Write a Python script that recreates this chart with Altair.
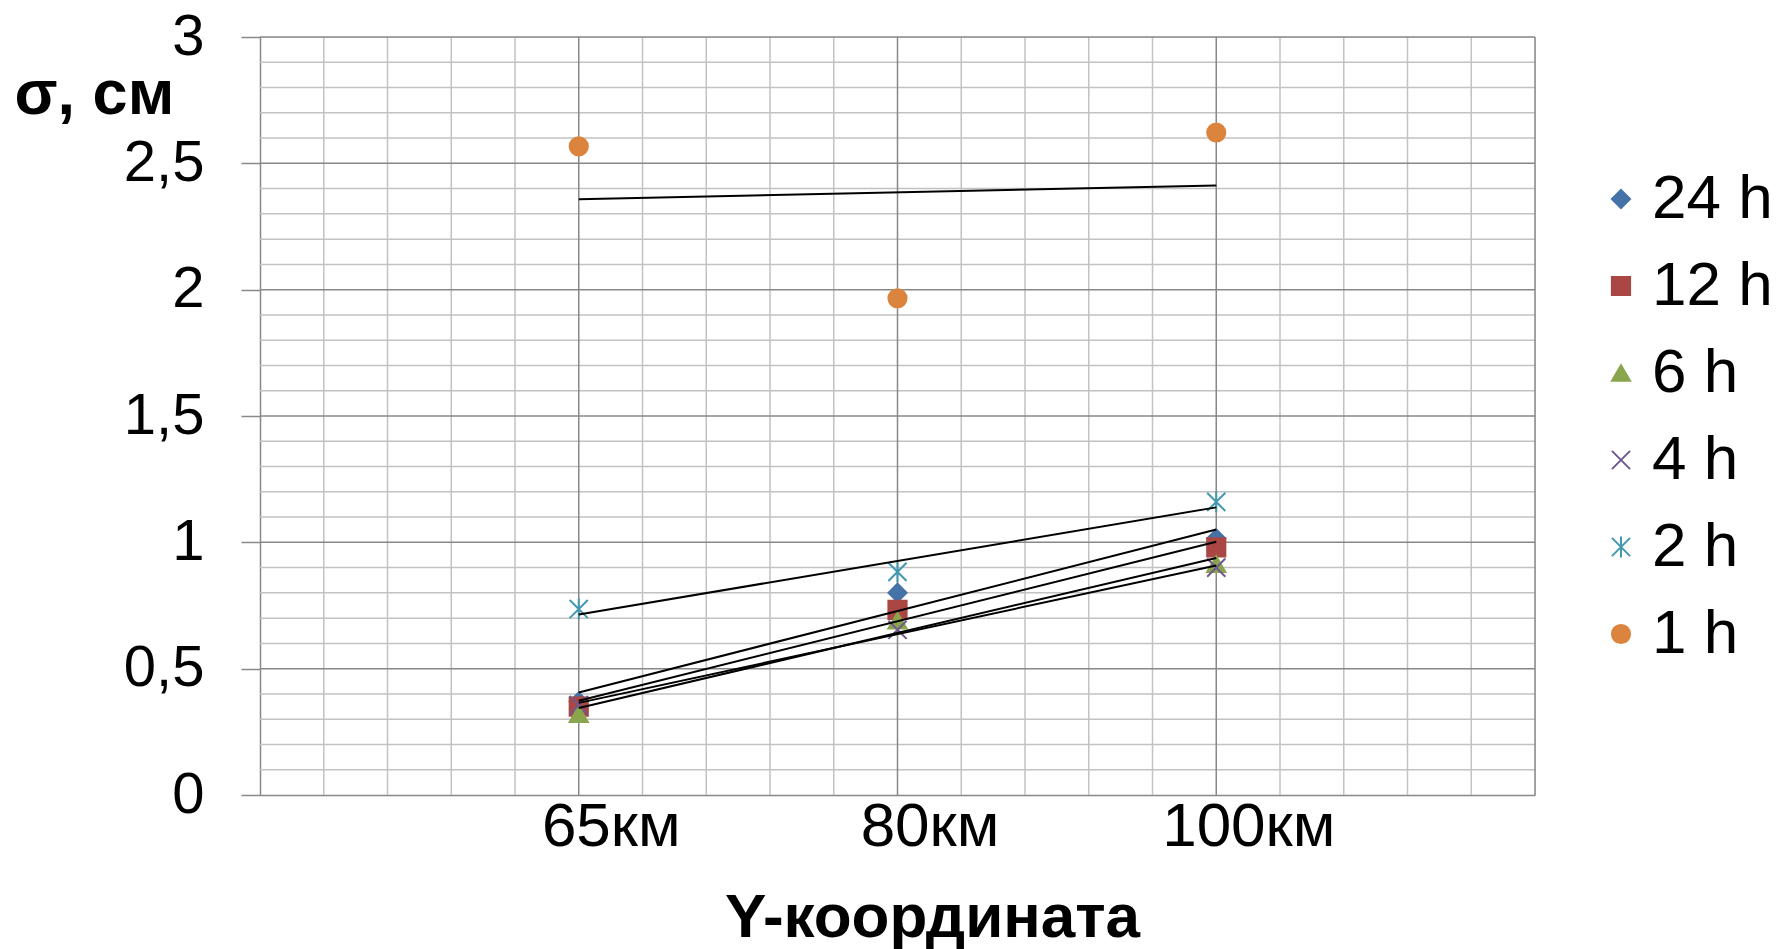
import altair as alt
import pandas as pd

# Series (observation interval) and their values at the three Y-coordinates
series = ["24 h", "12 h", "6 h", "4 h", "2 h", "1 h"]
positions = [1, 2, 3]
km_labels = ["65км", "80км", "100км"]

sigma_24h = [0.37, 0.80, 1.015]
sigma_12h = [0.35, 0.733, 0.98]
sigma_6h = [0.32, 0.69, 0.914]
sigma_4h = [0.356, 0.654, 0.90]
sigma_2h = [0.736, 0.883, 1.16]
sigma_1h = [2.567, 1.966, 2.622]

colors = ["#4572A7", "#AA4643", "#89A54E", "#71588F", "#4198AF", "#DB843D"]
fills = ["#4572A7", "#AA4643", "#89A54E", "transparent", "transparent", "#DB843D"]
shapes = [
    "diamond",
    "square",
    "triangle-up",
    "M-1,-1L1,1M-1,1L1,-1",
    "M-1,-1L1,1M-1,1L1,-1M0,-1.15L0,1.15",
    "circle",
]

# Grid positions (category axis 0..4, value axis 0..3)
y_major = [0.5, 1.0, 1.5, 2.0, 2.5, 3.0]
y_minor = [round(i * 0.1, 1) for i in range(1, 30) if i % 5 != 0]
x_major = [1, 2, 3, 4]
x_minor = [round(i * 0.2, 1) for i in range(1, 20) if i % 5 != 0]

rows = []
for name, vals in zip(series, [sigma_24h, sigma_12h, sigma_6h, sigma_4h, sigma_2h, sigma_1h]):
    for p, v in zip(positions, vals):
        rows.append({"series": name, "x": p, "y": v})
df = pd.DataFrame(rows)

W, H = 1275, 758
FONT = "Liberation Sans"
MAJOR = "#888888"
MINOR = "#c2c2c2"

xscale = alt.Scale(domain=[0, 4], nice=False, zero=False)
yscale = alt.Scale(domain=[0, 3], nice=False, zero=False)

label_list = "[" + ",".join("'" + s + "'" for s in km_labels) + "]"

x_axis = alt.Axis(
    values=positions,
    labelExpr=label_list + "[datum.value - 1]",
    ticks=False,
    tickSize=0,
    grid=False,
    domainColor=MAJOR,
    domainWidth=1.5,
    labelFontSize=62,
    labelColor="black",
    labelBaseline="alphabetic",
    labelPadding=50,
    labelOffset=32,
    labelFlush=False,
    labelOverlap=False,
    title="Y-координата",
    titleFontSize=62,
    titleFontWeight="bold",
    titleColor="black",
    titleX=672,
    titleY=141,
    titleAlign="center",
    titleBaseline="alphabetic",
)

y_axis = alt.Axis(
    values=[0] + y_major,
    labelExpr="replace(format(datum.value, '~g'), '.', ',')",
    tickSize=19,
    tickColor=MAJOR,
    tickWidth=1.5,
    grid=False,
    domainColor=MAJOR,
    domainWidth=1.5,
    labelFontSize=58,
    labelColor="black",
    labelPadding=37,
    labelFlush=False,
    labelOverlap=False,
    title="σ, см",
    titleAngle=0,
    titleFontSize=63,
    titleFontWeight="bold",
    titleColor="black",
    titleX=-246,
    titleY=76,
    titleAlign="left",
    titleBaseline="alphabetic",
)

hmin = alt.Chart(pd.DataFrame({"y": y_minor})).mark_rule(color=MINOR, strokeWidth=1.5).encode(
    y=alt.Y("y:Q", scale=yscale, axis=y_axis), x=alt.value(0), x2=alt.value(W)
)
vmin = alt.Chart(pd.DataFrame({"x": x_minor})).mark_rule(color=MINOR, strokeWidth=1.5).encode(
    x=alt.X("x:Q", scale=xscale, axis=x_axis), y=alt.value(0), y2=alt.value(H)
)
hmaj = alt.Chart(pd.DataFrame({"y": y_major})).mark_rule(color=MAJOR, strokeWidth=1.5).encode(
    y=alt.Y("y:Q", scale=yscale, axis=y_axis), x=alt.value(0), x2=alt.value(W)
)
vmaj = alt.Chart(pd.DataFrame({"x": x_major})).mark_rule(color=MAJOR, strokeWidth=1.5).encode(
    x=alt.X("x:Q", scale=xscale, axis=x_axis), y=alt.value(0), y2=alt.value(H)
)

points = alt.Chart(df).mark_point(size=330, strokeWidth=2, opacity=1).encode(
    x=alt.X("x:Q", scale=xscale, axis=x_axis),
    y=alt.Y("y:Q", scale=yscale, axis=y_axis),
    shape=alt.Shape(
        "series:N",
        scale=alt.Scale(domain=series, range=shapes),
        legend=alt.Legend(
            orient="none",
            legendX=1330,
            legendY=131,
            title=None,
            labelFontSize=62,
            labelColor="black",
            labelOffset=0,
            symbolSize=330,
            symbolStrokeWidth=2,
            rowPadding=25,
            padding=0,
        ),
    ),
    stroke=alt.Stroke("series:N", scale=alt.Scale(domain=series, range=colors)),
    fill=alt.Fill("series:N", scale=alt.Scale(domain=series, range=fills)),
)

trend = (
    alt.Chart(df)
    .transform_regression("x", "y", groupby=["series"])
    .mark_line(color="black", strokeWidth=2)
    .encode(
        x=alt.X("x:Q", scale=xscale, axis=x_axis),
        y=alt.Y("y:Q", scale=yscale, axis=y_axis),
        detail="series:N",
    )
)

chart = (
    alt.layer(hmin, vmin, hmaj, vmaj, points, trend)
    .properties(
        width=W,
        height=H,
        autosize=alt.AutoSizeParams(type="none"),
        padding={"left": 260, "top": 37, "right": 244, "bottom": 154},
        background="white",
    )
    .configure_view(stroke=None)
    .configure(font=FONT)
)

chart.save("out.html", embed_options={"renderer": "svg", "actions": False})
